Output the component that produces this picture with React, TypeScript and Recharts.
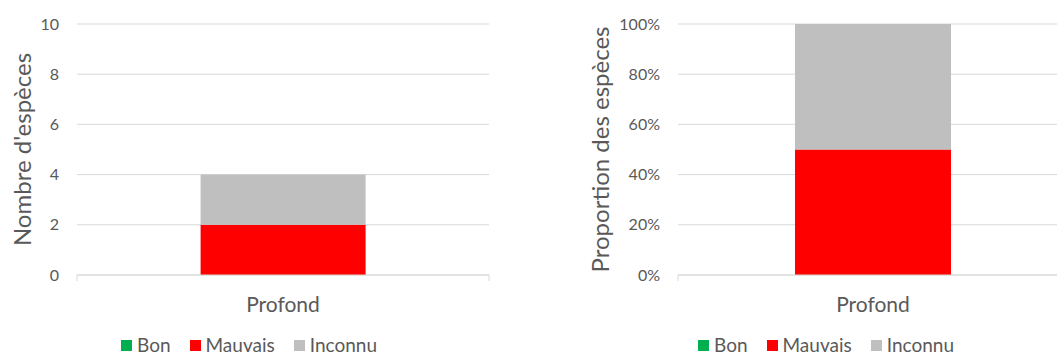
import { Bar, BarChart, CartesianGrid, XAxis, YAxis } from "recharts";

const categories = ["Profond"];
const bon = [0];
const mauvais = [2];
const inconnu = [2];
const countTicks = [0, 2, 4, 6, 8, 10];
const shareTicks = [0, 0.2, 0.4, 0.6, 0.8, 1];

const series = [
  { key: "Bon", color: "#00B050" },
  { key: "Mauvais", color: "#FF0000" },
  { key: "Inconnu", color: "#BFBFBF" },
];

const data = categories.map((name, i) => ({
  name,
  Bon: bon[i],
  Mauvais: mauvais[i],
  Inconnu: inconnu[i],
}));

const FONT = "Lato, 'Liberation Sans', sans-serif";
const TEXT = "#595959";
const GRID = "#D9D9D9";
const HEIGHT = 356;

function CategoryTick(props: any) {
  const { x, y, payload, bandWidth } = props;
  const half = bandWidth / 2;
  return (
    <g>
      <line x1={x - half} x2={x - half} y1={y} y2={y + 6} stroke={GRID} />
      <line x1={x + half} x2={x + half} y1={y} y2={y + 6} stroke={GRID} />
      <text x={x} y={y + 37} textAnchor="middle" fill={TEXT} fontSize={21}>
        {payload.value}
      </text>
    </g>
  );
}

function YTitle({ viewBox, value, dx }: any) {
  const cx = viewBox.x + dx;
  const cy = viewBox.y + viewBox.height / 2;
  return (
    <text
      x={cx}
      y={cy}
      transform={`rotate(-90 ${cx} ${cy})`}
      textAnchor="middle"
      dominantBaseline="central"
      fill={TEXT}
      fontSize={24}
    >
      {value}
    </text>
  );
}

// legend drawn as html under each panel so the plot area stays fixed
function LegendRow({ width }: { width: number }) {
  return (
    <div
      style={{
        position: "absolute",
        left: 0,
        top: 335,
        width,
        height: 20,
        lineHeight: "20px",
        display: "flex",
        justifyContent: "center",
        alignItems: "center",
        gap: 19,
        color: TEXT,
        fontSize: 19,
      }}
    >
      {series.map((s) => (
        <div key={s.key} style={{ display: "flex", alignItems: "center" }}>
          <span
            style={{
              width: 11,
              height: 11,
              background: s.color,
              marginRight: 5,
              display: "inline-block",
            }}
          />
          <span>{s.key}</span>
        </div>
      ))}
    </div>
  );
}

type PanelProps = {
  left: number;
  width: number;
  yAxisWidth: number;
  marginRight: number;
  title: string;
  titleX: number;
  ticks: number[];
  expand?: boolean;
  format: (v: number) => string;
};

function Panel(p: PanelProps) {
  const margin = { top: 24, right: p.marginRight, left: 0, bottom: 0 };
  const bandWidth = p.width - p.yAxisWidth - p.marginRight;
  return (
    <div style={{ position: "absolute", left: p.left, top: 0, width: p.width, height: HEIGHT }}>
      <BarChart
        width={p.width}
        height={HEIGHT}
        data={data}
        margin={margin}
        barCategoryGap="30%"
        stackOffset={p.expand ? "expand" : undefined}
      >
        <CartesianGrid vertical={false} stroke={GRID} />
        <XAxis
          dataKey="name"
          height={81}
          axisLine={{ stroke: GRID }}
          tickLine={false}
          tickSize={0}
          tickMargin={0}
          interval={0}
          tick={<CategoryTick bandWidth={bandWidth} />}
        />
        <YAxis
          width={p.yAxisWidth}
          domain={[p.ticks[0], p.ticks[p.ticks.length - 1]]}
          ticks={p.ticks}
          interval={0}
          tickFormatter={p.format}
          axisLine={false}
          tickLine={false}
          tickSize={0}
          tickMargin={18}
          tick={{ fill: TEXT, fontSize: 16 }}
          label={<YTitle value={p.title} dx={p.titleX} />}
        />
        {series.map((s) => (
          <Bar
            key={s.key}
            dataKey={s.key}
            stackId="a"
            fill={s.color}
            isAnimationActive={false}
          />
        ))}
      </BarChart>
      <LegendRow width={p.width} />
    </div>
  );
}

export default function App() {
  return (
    <div
      style={{
        position: "fixed",
        left: 0,
        top: 0,
        width: 1057,
        height: HEIGHT,
        overflow: "hidden",
        background: "#fff",
        fontFamily: FONT,
      }}
    >
      <Panel
        left={0}
        width={498}
        yAxisWidth={77}
        marginRight={9}
        title="Nombre d'espèces"
        titleX={21}
        ticks={countTicks}
        format={(v) => String(v)}
      />
      <Panel
        left={560}
        width={532}
        yAxisWidth={118}
        marginRight={24}
        title="Proportion des espèces"
        titleX={39}
        ticks={shareTicks}
        expand
        format={(v) => `${Math.round(v * 100)}%`}
      />
    </div>
  );
}
